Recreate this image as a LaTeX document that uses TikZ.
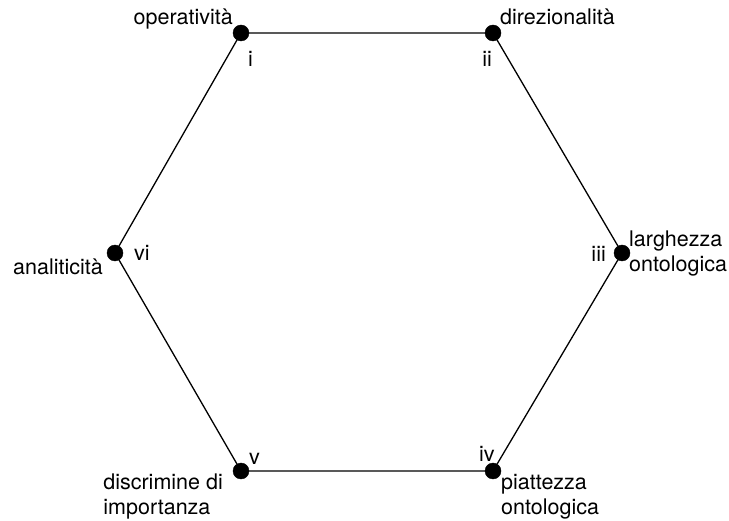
\documentclass[tikz,border=0pt]{standalone}
\usepackage{fontspec}
\setmainfont{TeX Gyre Heros}
\usetikzlibrary{positioning}

\begin{document}
\begin{tikzpicture}[x=1pt,y=-1pt,
  dot/.style={draw,circle,fill=black,inner sep=0pt,minimum size=16pt},
  lbl/.style={inner sep=0pt,font=\fontsize{21.5}{25}\selectfont,align=left}]
\useasboundingbox (0,0) rectangle (729,521);
\node[dot](i) at (241,33){};
\node[dot](ii) at (493,33){};
\node[dot](iii) at (622,253){};
\node[dot](iv) at (493,471){};
\node[dot](v) at (241,471){};
\node[dot](vi) at (115,253){};
\draw[line width=1.3pt] (i) -- (ii) -- (iii) -- (iv) -- (v) -- (vi) -- (i);
% names of the points
\node[lbl, anchor=base west](ni) at (248,67){i};
\node[lbl, anchor=base east](nii) at (492,67){ii};
\node[lbl, anchor=base east](niii) at (606,262){iii};
\node[lbl, anchor=base west](niv) at (479,462){iv};
\node[lbl, anchor=base west](nv) at (249,465){v};
\node[lbl, anchor=base west](nvi) at (134,261){vi};
% properties
\node[lbl, anchor=base east](a) at (233,25){operatività};
\node[lbl, anchor=base west](b) at (500,25){direzionalità};
\node[lbl, anchor=west](c) at (629,254){larghezza\\ontologica};
\node[lbl, anchor=south west](d) at (501,519){piattezza\\ontologica};
\node[lbl, anchor=south east](e) at (223,519){discrimine di\\importanza};
\node[lbl, anchor=base east](f) at (103,275){analiticità};
\end{tikzpicture}
\end{document}
